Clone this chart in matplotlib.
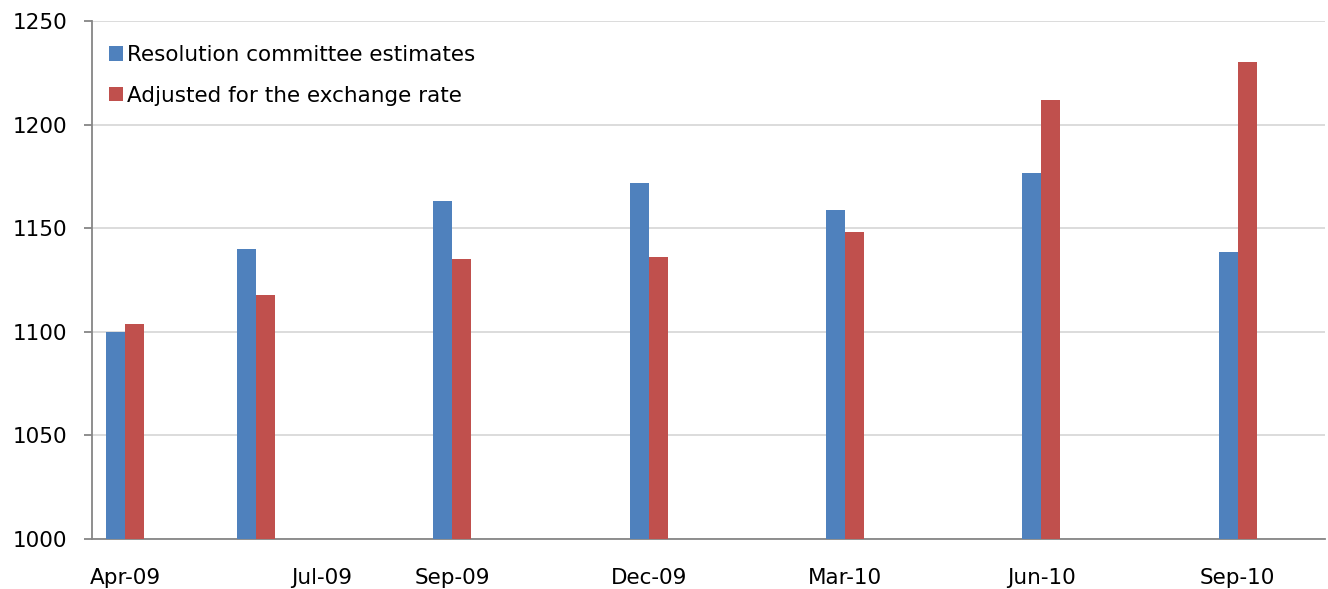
import numpy as np
import matplotlib
matplotlib.use("Agg")
from matplotlib import pyplot as plt
from datetime import datetime

# quarter dates for the bars
dates = ["Apr-09", "Jun-09", "Sep-09", "Dec-09", "Mar-10", "Jun-10", "Sep-10"]
estimates = [1100, 1140, 1163, 1172, 1159, 1176.5, 1138.5]
adjusted = [1104, 1118, 1135, 1136, 1148, 1212, 1230]
tick_labels = ["Apr-09", "Jul-09", "Sep-09", "Dec-09", "Mar-10", "Jun-10", "Sep-10"]

def months_from_start(s, start="Apr-09"):
    d = datetime.strptime(s, "%b-%y")
    d0 = datetime.strptime(start, "%b-%y")
    return (d.year - d0.year) * 12 + d.month - d0.month

if __name__ == '__main__':
    plt.rcParams['font.family'] = ['DejaVu Sans']
    x = np.array([months_from_start(d) for d in dates])
    xt = [months_from_start(t) for t in tick_labels]
    w = 0.29
    fs = 15.5

    fig = plt.figure(figsize=(13.28, 5.89), dpi=100)
    ax = fig.add_axes([0.0693, 0.0849, 0.9287, 0.8794])

    ax.bar(x - w / 2, np.array(estimates) - 1000, w, bottom=1000, color="#4F81BD",
           label="Resolution committee estimates", zorder=3)
    ax.bar(x + w / 2, np.array(adjusted) - 1000, w, bottom=1000, color="#C0504D",
           label="Adjusted for the exchange rate", zorder=3)

    ax.set_xlim(-0.503, 18.34)
    ax.set_ylim(1000, 1250)
    ax.set_yticks(np.arange(1000, 1251, 50))
    ax.set_xticks(xt)
    ax.set_xticklabels(tick_labels)

    ax.grid(axis="y", color="#D9D9D9", linewidth=1.3, zorder=0)
    for s in ["top", "right"]:
        ax.spines[s].set_visible(False)
    for s in ["left", "bottom"]:
        ax.spines[s].set_color("#868686")
        ax.spines[s].set_linewidth(1.3)

    ax.tick_params(axis="y", length=6, width=1.3, color="#868686", pad=12,
                   labelsize=fs, labelcolor="black")
    ax.tick_params(axis="x", length=0, pad=21, labelsize=fs, labelcolor="black")

    leg = ax.legend(loc="upper left", bbox_to_anchor=(-0.004, 0.995), frameon=False,
                    fontsize=fs, handlelength=0.65, handleheight=0.65,
                    handletextpad=0.2, labelspacing=0.95, borderaxespad=0.6)

    plt.savefig("out.png", dpi=100)
